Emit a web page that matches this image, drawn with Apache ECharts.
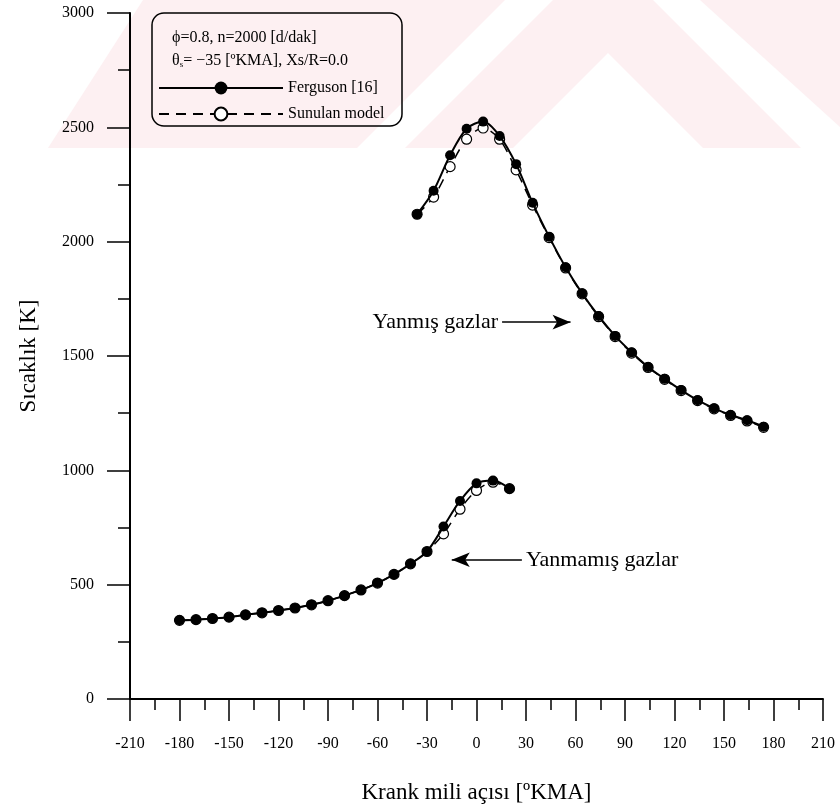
<!DOCTYPE html>
<html>
<head>
<meta charset="utf-8">
<script src="https://cdn.jsdelivr.net/npm/echarts@6/dist/echarts.min.js"></script>
<style>
  html, body { margin: 0; background: #fff; }
  #chart { width: 840px; height: 809px; }
</style>
</head>
<body>
<div id="chart"></div>
<script>
// burned gases (Yanmış gazlar)
const burnedAngle = [-36, -26, -16, -6, 4, 14, 24, 34, 44, 54, 64, 74, 84, 94, 104, 114, 124, 134, 144, 154, 164, 174];
const burnedFerguson = [2120, 2223, 2378, 2494, 2525, 2462, 2339, 2170, 2022, 1888, 1774, 1675, 1588, 1516, 1452, 1400, 1351, 1307, 1271, 1242, 1219, 1191];
const burnedModel = [2120, 2195, 2328, 2448, 2497, 2448, 2314, 2160, 2018, 1885, 1772, 1672, 1585, 1513, 1450, 1398, 1349, 1305, 1269, 1240, 1216, 1188];

// unburned gases (Yanmamış gazlar)
const unburnedAngle = [-180, -170, -160, -150, -140, -130, -120, -110, -100, -90, -80, -70, -60, -50, -40, -30, -20, -10, 0, 10, 20];
const unburnedFerguson = [344, 347, 352, 358, 368, 377, 387, 398, 412, 430, 452, 477, 507, 545, 591, 645, 754, 866, 943, 955, 920];
const unburnedModel = [344, 347, 352, 358, 368, 377, 387, 398, 412, 430, 452, 477, 507, 545, 591, 645, 722, 830, 912, 948, 920];

// arrows next to the curves, in data units
const burnedArrow = [[15.5, 1648], [57, 1648]];
const unburnedArrow = [[27.5, 609], [-15, 609]];

const serif = 'Liberation Serif';
const zip = (xs, ys) => xs.map((x, i) => [x, ys[i]]);

const fergusonSeries = (data, arrow, label) => ({
  name: 'Ferguson [16]',
  type: 'line',
  data: data,
  smooth: 0.3,
  symbol: 'circle',
  symbolSize: 10,
  lineStyle: { color: '#000', width: 2 },
  itemStyle: { color: '#000' },
  z: 4,
  markLine: {
    silent: true,
    animation: false,
    symbol: ['none', 'arrow'],
    symbolSize: [11, 18],
    lineStyle: { color: '#000', width: 1.5, type: 'solid' },
    label: {
      show: true,
      position: 'start',
      formatter: label,
      fontFamily: serif,
      fontSize: 22,
      color: '#000',
      distance: 4
    },
    data: [[{ coord: arrow[0] }, { coord: arrow[1] }]]
  }
});

const modelSeries = (data) => ({
  name: 'Sunulan model',
  type: 'line',
  data: data,
  smooth: 0.3,
  symbol: 'circle',
  symbolSize: 10,
  lineStyle: { color: '#000', width: 1.5, type: [10, 7] },
  itemStyle: { color: '#fff', borderColor: '#000', borderWidth: 1.2 },
  z: 3
});

var myChart = echarts.init(document.getElementById('chart'));
option = {
  animation: false,
  backgroundColor: '#fff',
  grid: {
    left: 130,
    right: 17,
    top: 13,
    bottom: 106
  },
  xAxis: {
    type: 'value',
    min: -210,
    max: 210,
    interval: 30,
    name: 'Krank mili açısı [ºKMA]',
    nameLocation: 'middle',
    nameGap: 82,
    nameTextStyle: { fontFamily: serif, fontSize: 23, color: '#000' },
    axisLine: { show: true, onZero: false, lineStyle: { color: '#000', width: 2 } },
    axisTick: { show: true, length: 22, lineStyle: { color: '#000', width: 1.5 } },
    minorTick: { show: true, splitNumber: 2, length: 11, lineStyle: { color: '#000', width: 1.5 } },
    splitLine: { show: false },
    axisLabel: { fontFamily: serif, fontSize: 16, color: '#000', margin: 37 }
  },
  yAxis: {
    type: 'value',
    min: 0,
    max: 3000,
    interval: 500,
    name: 'Sıcaklık [K]',
    nameLocation: 'middle',
    nameGap: 90,
    nameTextStyle: { fontFamily: serif, fontSize: 23, color: '#000' },
    axisLine: { show: true, onZero: false, lineStyle: { color: '#000', width: 2 } },
    axisTick: { show: true, length: 23, lineStyle: { color: '#000', width: 1.5 } },
    minorTick: { show: true, splitNumber: 2, length: 12, lineStyle: { color: '#000', width: 1.5 } },
    splitLine: { show: false },
    axisLabel: {
      fontFamily: serif, fontSize: 16, color: '#000', margin: 36,
      formatter: (v) => String(v)
    }
  },
  legend: {
    data: ['Ferguson [16]', 'Sunulan model'],
    orient: 'vertical',
    left: 153,
    top: 75,
    itemWidth: 124,
    itemHeight: 16,
    itemGap: 10,
    selectedMode: false,
    textStyle: { fontFamily: serif, fontSize: 16, color: '#000' }
  },
  graphic: [
    // faint watermark behind the plot
    {
      type: 'group',
      silent: true,
      z: -10,
      children: [
        { type: 'polygon', shape: { points: [[143, 0], [505, 0], [357, 148], [48, 148]] }, style: { fill: '#fdf0f2' } },
        { type: 'polygon', shape: { points: [[553, 0], [653, 0], [801, 148], [703, 148], [608, 53], [513, 148], [405, 148]] }, style: { fill: '#fdf0f2' } },
        { type: 'polygon', shape: { points: [[700, 0], [840, 0], [840, 127]] }, style: { fill: '#fdf0f2' } }
      ]
    },
    // legend frame and run conditions
    {
      type: 'rect',
      silent: true,
      shape: { x: 152, y: 13, width: 250, height: 113, r: 12 },
      style: { fill: 'none', stroke: '#000', lineWidth: 1.5 }
    },
    {
      type: 'text',
      left: 172,
      top: 30,
      style: { text: 'ϕ=0.8, n=2000 [d/dak]', font: '16px "Liberation Serif"', fill: '#000' }
    },
    {
      type: 'text',
      left: 172,
      top: 53,
      style: {
        text: 'θ{sub|s}= −35 [ºKMA], Xs/R=0.0',
        font: '16px "Liberation Serif"',
        fill: '#000',
        rich: { sub: { fontSize: 9, fontFamily: serif, padding: [8, 0, 0, 0] } }
      }
    }
  ],
  series: [
    modelSeries(zip(burnedAngle, burnedModel)),
    fergusonSeries(zip(burnedAngle, burnedFerguson), burnedArrow, 'Yanmış gazlar'),
    modelSeries(zip(unburnedAngle, unburnedModel)),
    fergusonSeries(zip(unburnedAngle, unburnedFerguson), unburnedArrow, 'Yanmamış gazlar')
  ]
};
myChart.setOption(option);
</script>
</body>
</html>
